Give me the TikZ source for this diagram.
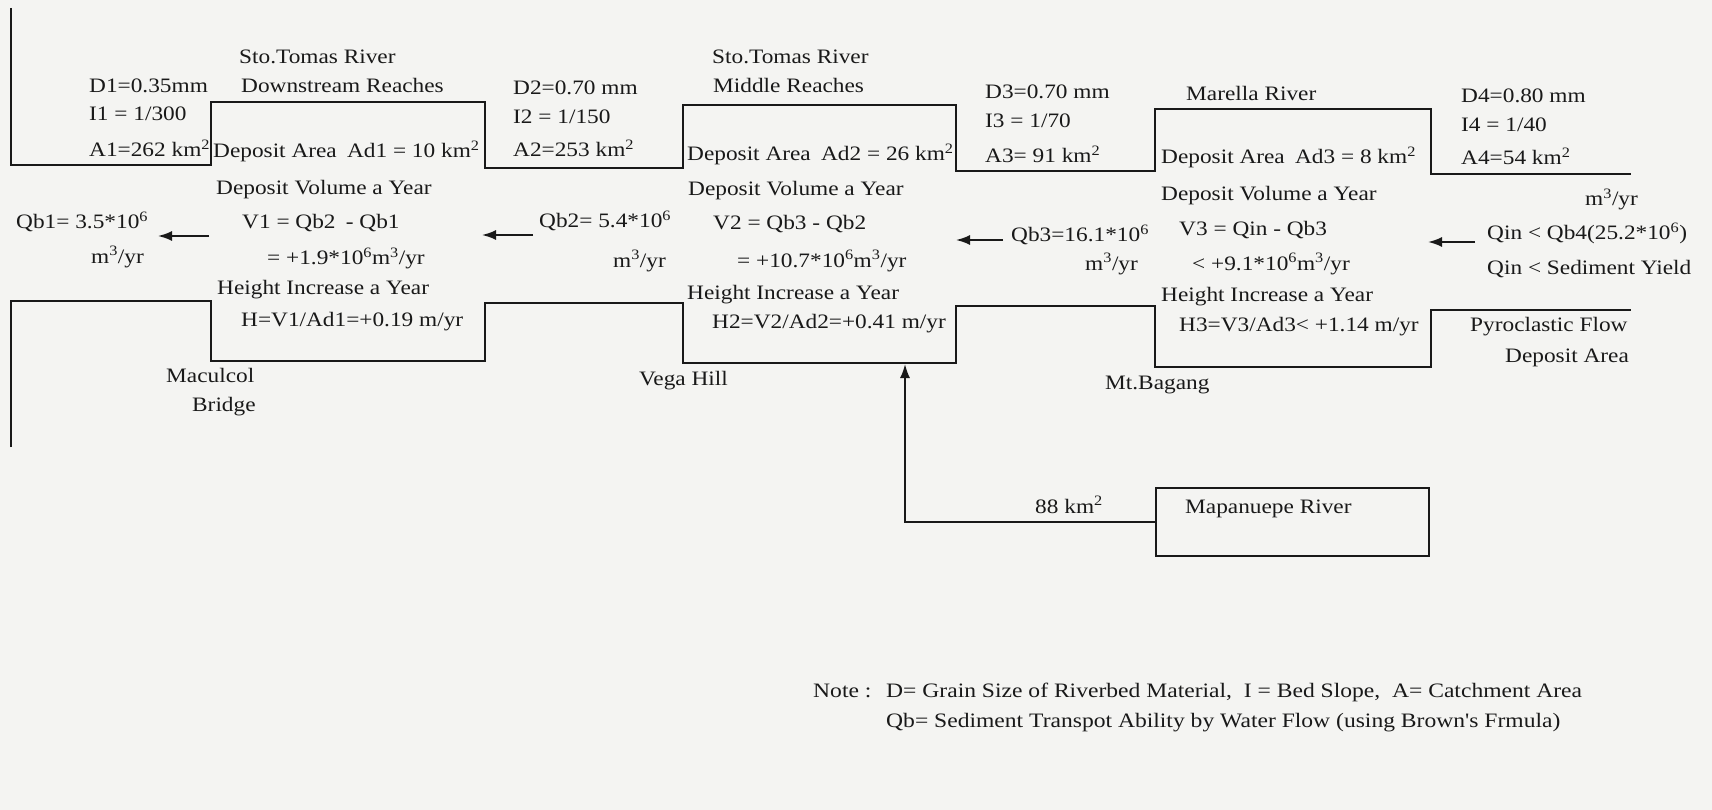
\documentclass[tikz,border=0pt]{standalone}
\usepackage{fontspec}
\setmainfont{Liberation Serif}[FakeStretch=1.137]
\newfontfamily\notefont{Liberation Serif}[FakeStretch=1.15]
\usetikzlibrary{arrows.meta}
\definecolor{paper}{RGB}{244,244,242}
\definecolor{ink}{RGB}{25,25,25}
\newcommand{\mainsz}{\fontsize{20.5}{24}\selectfont}
\newcommand{\sq}{\textsuperscript{2}}
\newcommand{\cu}{\textsuperscript{3}}
\newcommand{\sx}{\textsuperscript{6}}
\tikzset{
  txt/.style={anchor=base west, inner sep=0pt, text=ink, font=\mainsz},
  note/.style={anchor=base west, inner sep=0pt, text=ink, font=\notefont\fontsize{20.5}{24}\selectfont},
  profile/.style={draw=ink, line width=2.4pt, line join=miter},
  flowarr/.style={draw=ink, line width=1.8pt, -{Latex[length=14pt,width=10pt]}},
  boxnode/.style={draw=ink, line width=2pt, minimum width=273pt, minimum height=68pt, inner sep=0pt, anchor=north west}
}
\begin{document}
\begin{tikzpicture}[x=1pt,y=-1pt]
\useasboundingbox (0,0) rectangle (1712,810);
\fill[paper] (0,0) rectangle (1712,810);

% upper profile
\draw[profile] (11,8) -- (11,165) -- (211,165) -- (211,102) -- (485,102) -- (485,168)
  -- (683,168) -- (683,105) -- (956,105) -- (956,171) -- (1155,171) -- (1155,109)
  -- (1431,109) -- (1431,174) -- (1631,174);
% lower profile
\draw[profile] (11,447) -- (11,301) -- (211,301) -- (211,361) -- (485,361) -- (485,303)
  -- (683,303) -- (683,363) -- (956,363) -- (956,306) -- (1155,306) -- (1155,367)
  -- (1431,367) -- (1431,310) -- (1631,310);

% flow arrows
\coordinate (a1s) at (209,236); \coordinate (a1e) at (158,236);
\coordinate (a2s) at (533,235); \coordinate (a2e) at (482,235);
\coordinate (a3s) at (1003,240); \coordinate (a3e) at (956,240);
\coordinate (a4s) at (1475,242); \coordinate (a4e) at (1428,242);
\draw[flowarr] (a1s) -- (a1e);
\draw[flowarr] (a2s) -- (a2e);
\draw[flowarr] (a3s) -- (a3e);
\draw[flowarr] (a4s) -- (a4e);

% Mapanuepe box and tributary arrow
\node[boxnode] (map) at (1155,487) {};
\coordinate (trib) at (905,364);
\draw[flowarr] (map.west) -| (trib);

% texts: downstream reach
\node[txt] (t1) at (239,64) {Sto.Tomas River};
\node[txt] (t2) at (89,93) {D1=0.35mm};
\node[txt] (t3) at (241,93) {Downstream Reaches};
\node[txt] (t4) at (89,121) {I1 = 1/300};
\node[txt] (t5) at (89,157) {A1=262 km\sq};
\node[txt] (t6) at (213,158) {Deposit Area\enspace Ad1 = 10 km\sq};
\node[txt] (t7) at (216,195) {Deposit Volume a Year};
\node[txt] (t8) at (16,229) {Qb1= 3.5*10\sx};
\node[txt] (t9) at (91,263) {m\cu/yr};
\node[txt] (t10) at (242,229) {V1 = Qb2\enspace - Qb1};
\node[txt] (t11) at (267,265) {= +1.9*10\sx m\cu/yr};
\node[txt] (t12) at (217,294) {Height Increase a Year};
\node[txt] (t13) at (241,326) {H=V1/Ad1=+0.19 m/yr};
\node[txt] (t14) at (166,382) {Maculcol};
\node[txt] (t15) at (192,411) {Bridge};

% middle reach
\node[txt] (u1) at (712,64) {Sto.Tomas River};
\node[txt] (u2) at (713,93) {Middle Reaches};
\node[txt] (u3) at (513,95) {D2=0.70 mm};
\node[txt] (u4) at (513,124) {I2 = 1/150};
\node[txt] (u5) at (513,157) {A2=253 km\sq};
\node[txt] (u6) at (687,161) {Deposit Area\enspace Ad2 = 26 km\sq};
\node[txt] (u7) at (688,196) {Deposit Volume a Year};
\node[txt] (u8) at (539,228) {Qb2= 5.4*10\sx};
\node[txt] (u9) at (613,267) {m\cu/yr};
\node[txt] (u10) at (713,230) {V2 = Qb3 - Qb2};
\node[txt] (u11) at (737,267) {= +10.7*10\sx m\cu/yr};
\node[txt] (u12) at (687,299) {Height Increase a Year};
\node[txt] (u13) at (712,328) {H2=V2/Ad2=+0.41 m/yr};
\node[txt] (u14) at (639,385) {Vega Hill};

% Marella reach
\node[txt] (v1) at (985,99) {D3=0.70 mm};
\node[txt] (v2) at (985,128) {I3 = 1/70};
\node[txt] (v3) at (985,163) {A3= 91 km\sq};
\node[txt] (v4) at (1011,242) {Qb3=16.1*10\sx};
\node[txt] (v5) at (1085,270) {m\cu/yr};
\node[txt] (v6) at (1186,101) {Marella River};
\node[txt] (v7) at (1161,164) {Deposit Area\enspace Ad3 = 8 km\sq};
\node[txt] (v8) at (1161,201) {Deposit Volume a Year};
\node[txt] (v9) at (1179,236) {V3 = Qin - Qb3};
\node[txt] (v10) at (1192,270) {< +9.1*10\sx m\cu/yr};
\node[txt] (v11) at (1161,301) {Height Increase a Year};
\node[txt] (v12) at (1179,331) {H3=V3/Ad3< +1.14 m/yr};
\node[txt] (v13) at (1105,389) {Mt.Bagang};

% upstream
\node[txt] (w1) at (1461,103) {D4=0.80 mm};
\node[txt] (w2) at (1461,132) {I4 = 1/40};
\node[txt] (w3) at (1461,165) {A4=54 km\sq};
\node[txt] (w4) at (1585,206) {m\cu/yr};
\node[txt] (w5) at (1487,240) {Qin < Qb4(25.2*10\sx)};
\node[txt] (w6) at (1487,274) {Qin < Sediment Yield};
\node[txt] (w7) at (1470,331) {Pyroclastic Flow};
\node[txt] (w8) at (1505,362) {Deposit Area};

% tributary
\node[txt] (x1) at (1035,513) {88 km\sq};
\node[txt] (x2) at (1185,513) {Mapanuepe River};

% note
\node[note] (n0) at (813,697) {Note :};
\node[note] (n1) at (886,697) {D= Grain Size of Riverbed Material,\ \ I = Bed Slope,\ \ A= Catchment Area};
\node[note] (n2) at (886,727) {Qb= Sediment Transpot Ability by Water Flow (using Brown's Frmula)};
\end{tikzpicture}
\end{document}
